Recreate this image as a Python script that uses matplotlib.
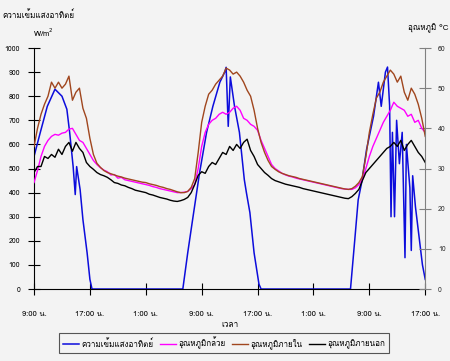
import matplotlib
matplotlib.use("Agg")
import matplotlib.pyplot as plt
from matplotlib import font_manager
from matplotlib.ft2font import FT2Font

# look for an installed family that has Thai glyphs
thai_family = "DejaVu Sans"
for f in font_manager.fontManager.ttflist:
    try:
        if 0x0E01 in FT2Font(f.fname).get_charmap():
            thai_family = f.name
            break
    except Exception:
        pass
plt.rcParams["font.family"] = [thai_family, "DejaVu Sans"]

# half-hour readings, hours counted from 9:00 on day 1
hours = [i * 0.5 for i in range(113)]
temp_inside = [35.5, 40, 43.5, 46, 48, 51.5, 50, 51.5, 50, 51, 53, 47, 49, 50, 45, 42.5, 37.5, 33.5, 31.3, 30.3,
               29.5, 29, 28.7, 28.4, 28.1, 27.9, 27.6, 27.4, 27.2, 27, 26.8, 26.6, 26.5, 26.2, 26, 25.8, 25.5, 25.3, 25, 24.8,
               24.5, 24.2, 24, 24, 24.3, 25.3, 27.5, 34, 41.5, 45.5, 48.5, 49.5, 51, 52, 53, 55, 54.5, 53.5, 54, 53,
               51.5, 49.5, 48, 44.5, 40, 36.5, 34, 32, 30.5, 29.8, 29.2, 28.8, 28.5, 28.2, 28, 27.8, 27.5, 27.3, 27.1, 26.9,
               26.7, 26.5, 26.3, 26.1, 25.9, 25.7, 25.5, 25.3, 25.1, 24.9, 24.8, 25, 25.6, 26.5, 28, 33, 39, 43.5, 47.5, 49,
               51.5, 53, 54.5, 53.5, 51.5, 53, 49, 47, 50, 48.5, 46, 42.5, 38]
temp_banana = [26.5, 29.5, 33, 35.5, 37, 38, 38.5, 38.3, 38.8, 39, 39.8, 40, 38.5, 37, 36.5, 35, 33.5, 32, 31, 30.2,
               29.6, 29.2, 28.4, 28.5, 27.6, 27.8, 27.2, 27, 26.8, 26.6, 26.4, 26.2, 26, 25.8, 25.5, 25.3, 25, 24.8, 24.6, 24.4,
               24.2, 24, 24, 24.1, 24.3, 25, 26, 30, 35.5, 39, 41, 42, 42.5, 43.5, 44, 43.5, 44, 45, 45.5, 44.5,
               42.5, 42, 41, 40.5, 39.5, 37, 35, 33, 31, 30, 29.4, 28.8, 28.4, 28.1, 27.9, 27.6, 27.4, 27.2, 27, 26.8,
               26.6, 26.4, 26.2, 26, 25.8, 25.6, 25.4, 25.2, 25, 24.9, 24.8, 24.8, 25.2, 26, 27.3, 30, 33, 35.5, 37.5, 39.5,
               41.5, 43, 44.5, 46.5, 45.5, 45, 44.5, 43, 43.5, 41.5, 42, 40, 39]
temp_outside = [29, 30.5, 30.5, 33, 32.5, 33.5, 32.8, 34.8, 33.5, 35.5, 36.5, 34.3, 36.5, 35, 34, 31.5, 30.5, 29.8, 29, 28.5,
                28.2, 27.8, 27.2, 26.5, 26.3, 25.9, 25.7, 25.3, 25, 24.6, 24.4, 24.2, 24, 23.6, 23.4, 23.1, 22.8, 22.6, 22.4, 22.1,
                21.9, 21.8, 22, 22.3, 22.8, 24, 26, 28.3, 29.2, 28.8, 30.5, 31.5, 31, 32.5, 34, 33.5, 35.5, 34.5, 36, 35,
                36.5, 37.3, 34.5, 33, 31, 30, 29, 28.3, 27.5, 27, 26.7, 26.4, 26.1, 25.9, 25.7, 25.5, 25.3, 25, 24.8, 24.6,
                24.4, 24.2, 24, 23.8, 23.6, 23.4, 23.2, 23, 22.8, 22.6, 22.5, 23, 23.8, 24.8, 27, 29, 30, 31, 32, 33,
                34, 35, 35.5, 36.5, 35.5, 37, 34.5, 36, 37, 35.5, 34, 33, 31.5]

solar_hours = [0, 0.9, 1.9, 3, 4, 4.7, 5.1, 5.6, 5.9, 6.1, 6.6, 7, 7.6, 8, 8.3,
               21.3, 22, 22.7, 23.7, 24.7, 25.6, 26.6, 27.3, 27.5, 27.8, 28.1, 28.7,
               29.4, 30.1, 30.4, 30.9, 31.5, 32.2, 32.5,
               45.3, 45.9, 46.4, 46.9, 47.6, 48.6, 49.3, 49.7, 50.3, 50.6, 50.9, 51.1,
               51.3, 51.6, 51.9, 52.3, 52.7, 53.1, 53.3, 53.8, 54.0, 54.2, 54.6, 55.1,
               55.6, 56]
solar = [550, 650, 758, 829, 800, 746, 650, 508, 392, 508, 412, 288, 150, 40, 0,
         0, 150, 288, 483, 650, 758, 858, 900, 920, 675, 880, 758,
         650, 454, 400, 317, 150, 20, 0,
         0, 200, 370, 442, 579, 717, 858, 758, 900, 921, 760, 300,
         650, 300, 700, 520, 650, 130, 600, 420, 160, 470, 340, 220,
         100, 40]

tick_pos = [0, 8, 16, 24, 32, 40, 48, 56]
tick_labels = ["9:00 น.", "17:00 น.", "1:00 น.", "9:00 น.", "17:00 น.", "1:00 น.",
               "9:00 น.", "17:00 น."]

bg = "#f3f3f3"
fig = plt.figure(figsize=(4.5, 3.61), dpi=100, facecolor=bg)
ax = fig.add_axes([0.0756, 0.1994, 0.8694, 0.6676])
ax.set_facecolor(bg)
ax2 = ax.twinx()

l1, = ax.plot(solar_hours, solar, color="#0c0cdc", lw=1.1, label="ความเข้มแสงอาทิตย์")
l2, = ax2.plot(hours, temp_banana, color="#ff00ff", lw=1.0, label="อุณหภูมิกล้วย")
l3, = ax2.plot(hours, temp_inside, color="#a0461e", lw=1.0, label="อุณหภูมิภายใน")
l4, = ax2.plot(hours, temp_outside, color="black", lw=1.0, label="อุณหภูมิภายนอก")

ax.set_xlim(0, 56)
ax.set_ylim(0, 1000)
ax2.set_ylim(0, 60)
ax.set_yticks(range(0, 1001, 100))
ax2.set_yticks(range(0, 61, 10))
ax.set_xticks(tick_pos)
ax.set_xticklabels(tick_labels)

ax.spines["top"].set_visible(False)
ax2.spines["top"].set_visible(False)
ax2.spines["left"].set_visible(False)
ax2.spines["bottom"].set_visible(False)
ax.spines["right"].set_visible(False)
ax2.spines["right"].set_color("#808080")

ax.tick_params(axis="y", direction="inout", length=8, width=0.8, labelsize=5, pad=6)
ax.tick_params(axis="x", direction="inout", length=8, width=0.8, labelsize=5.5, pad=12)
ax2.tick_params(axis="y", direction="inout", length=8, width=0.8, colors="#808080",
                labelcolor="#333333", labelsize=5, pad=5)

ax.set_xlabel("เวลา", fontsize=6, labelpad=1)

fig.text(0.005, 0.958, "ความเข้มแสงอาทิตย์", fontsize=5.8, va="center", ha="left")
fig.text(0.073, 0.91, "W/m$^2$", fontsize=5.5, va="center", ha="left")
fig.text(0.996, 0.922, "อุณหภูมิ °C", fontsize=5.8, va="center", ha="right")

leg = fig.legend(handles=[l1, l2, l3, l4], loc="center", bbox_to_anchor=(0.498, 0.05),
                 ncol=4, fontsize=5.8, frameon=True, fancybox=False, edgecolor="#555555",
                 facecolor=bg, framealpha=1, handlelength=2.0, handletextpad=0.3,
                 columnspacing=0.8, borderpad=0.45)
leg.get_frame().set_linewidth(0.8)

fig.savefig("out.png", dpi=100, facecolor=bg)
